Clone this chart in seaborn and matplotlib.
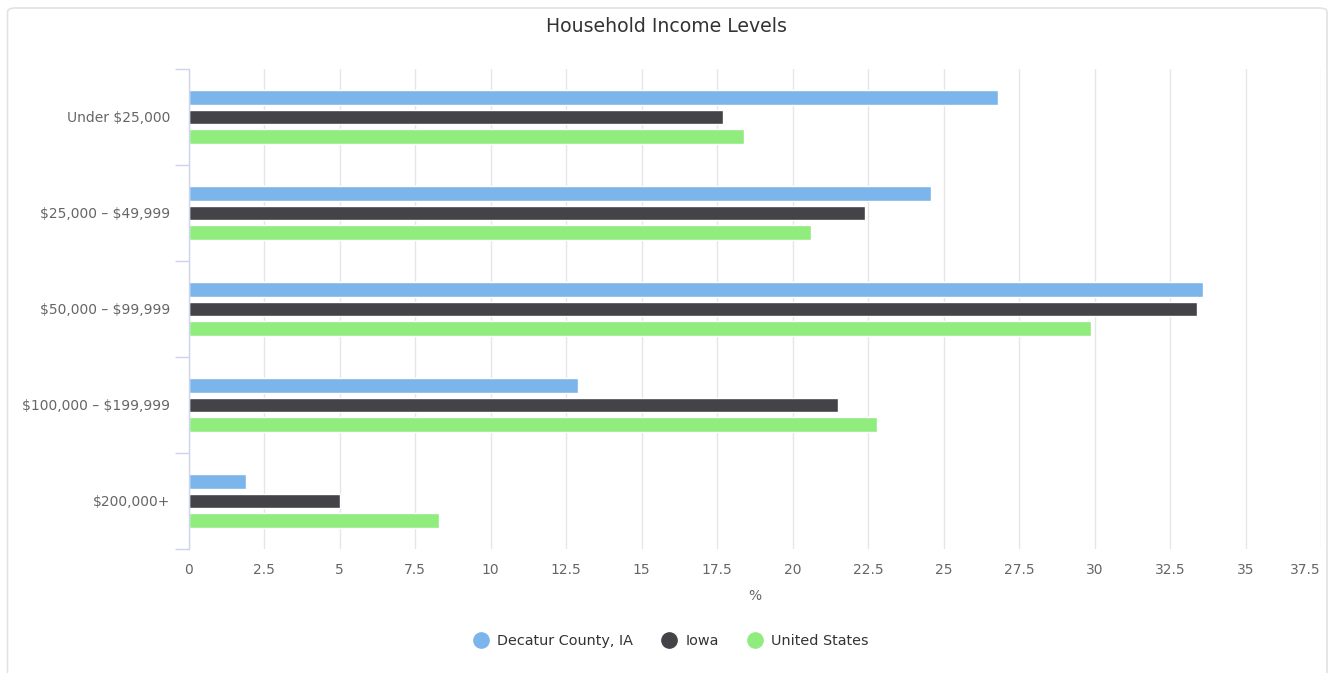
import numpy as np
import pandas as pd
import matplotlib
matplotlib.use("Agg")
import matplotlib.pyplot as plt
from matplotlib.lines import Line2D
from matplotlib.patches import FancyBboxPatch
import seaborn as sns

# Household income distribution (% of households)
categories = ["Under $25,000", "$25,000 – $49,999", "$50,000 – $99,999",
              "$100,000 – $199,999", "$200,000+"]
series = ["Decatur County, IA", "Iowa", "United States"]
decatur = [26.8, 24.6, 33.6, 12.9, 1.9]
iowa = [17.7, 22.4, 33.4, 21.5, 5.0]
united_states = [18.4, 20.6, 29.9, 22.8, 8.3]
x_ticks = [0, 2.5, 5, 7.5, 10, 12.5, 15, 17.5, 20, 22.5, 25, 27.5, 30, 32.5, 35, 37.5]

colors = ["#7cb5ec", "#434348", "#90ed7d"]

df = pd.DataFrame({
    "category": categories * 3,
    "series": [s for s in series for _ in categories],
    "value": decatur + iowa + united_states,
})

sns.set_theme(style="white")
plt.rcParams["font.family"] = ["DejaVu Sans"]
plt.rcParams["text.parse_math"] = False

W, H = 1333, 673
fig = plt.figure(figsize=(W / 100, H / 100), dpi=100)
fig.patch.set_facecolor("white")

# rounded card outline
card = FancyBboxPatch((7.5 / W, -20 / H), (1327 - 7.5) / W, (673 - 8 + 20) / H,
                      boxstyle="round,pad=0,rounding_size=0.006",
                      transform=fig.transFigure, facecolor="none",
                      edgecolor="#e2e2e2", linewidth=1.2, zorder=-1)
fig.patches.append(card)

left, right = 188.5 / W, 1321 / W
top, bottom = 1 - 69 / H, 1 - 549 / H
ax = fig.add_axes([left, bottom, right - left, top - bottom])
ax.set_facecolor("none")

sns.barplot(data=df, x="value", y="category", hue="series", orient="h",
            order=categories, hue_order=series, palette=colors, saturation=1,
            width=0.6, gap=0.22, edgecolor="white", linewidth=1,
            legend=False, ax=ax, zorder=3)

ax.set_xlim(0, 37.5)
ax.set_ylim(4.5, -0.5)
ax.set_xticks(x_ticks)
ax.set_xticklabels([f"{v:g}" for v in x_ticks])
ax.set_yticks(range(len(categories)))
ax.set_yticklabels(categories)
ax.set_yticks(np.arange(-0.5, len(categories), 1), minor=True)
# keep the last value label inside the plot edge
ax.get_xticklabels()[-1].set_horizontalalignment("right")

ax.grid(axis="x", color="#e6e6e6", linewidth=1)
ax.grid(axis="y", visible=False)
ax.set_axisbelow(True)

for s in ["top", "right", "bottom"]:
    ax.spines[s].set_visible(False)
ax.spines["left"].set_color("#ccd6eb")
ax.spines["left"].set_linewidth(1)
ax.spines["left"].set_zorder(4)

ax.tick_params(axis="y", which="major", left=False, length=0, pad=13,
               labelsize=10, labelcolor="#666666")
ax.tick_params(axis="y", which="minor", left=True, length=10, width=1,
               color="#ccd6eb")
ax.tick_params(axis="x", which="major", bottom=False, length=0, pad=10,
               labelsize=10, labelcolor="#666666")

ax.set_xlabel("%", fontsize=10, color="#666666", labelpad=9)
ax.set_ylabel("")

fig.text(0.5, 1 - 27 / H, "Household Income Levels", ha="center", va="center",
         fontsize=13.6, color="#333333")

handles = [Line2D([], [], linestyle="none", marker="o", markersize=11,
                  markerfacecolor=c, markeredgecolor=c) for c in colors]
fig.legend(handles, series, loc="center", bbox_to_anchor=(0.503, 1 - 641 / H),
           ncol=3, frameon=False, fontsize=10.4, labelcolor="#333333",
           handletextpad=0.5, columnspacing=1.9, handlelength=1.2)

fig.savefig("out.png", dpi=100, facecolor="white")
